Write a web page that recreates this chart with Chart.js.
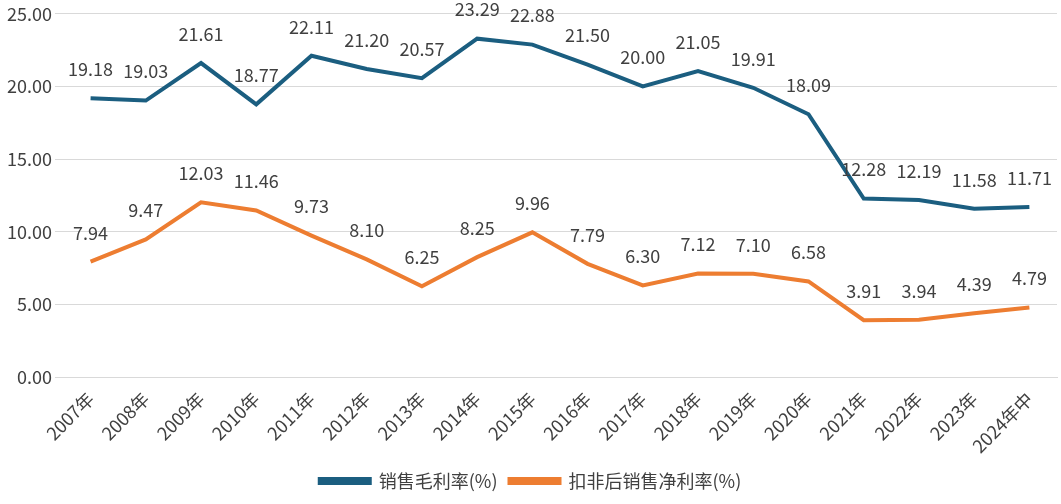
<!DOCTYPE html>
<html><head><meta charset="utf-8">
<script src="https://cdn.jsdelivr.net/npm/chart.js@4"></script>
<style>html,body{margin:0;background:#fff}#w{width:1061px;height:504px}</style>
</head><body><div id="w"><canvas id="c"></canvas></div>
<script>
const categories=["2007年","2008年","2009年","2010年","2011年","2012年","2013年","2014年","2015年","2016年","2017年","2018年","2019年","2020年","2021年","2022年","2023年","2024年中"];
const grossMargin=[19.18,19.03,21.61,18.77,22.11,21.20,20.57,23.29,22.88,21.50,20.00,21.05,19.91,18.09,12.28,12.19,11.58,11.71];
const netMargin=[7.94,9.47,12.03,11.46,9.73,8.10,6.25,8.25,9.96,7.79,6.30,7.12,7.10,6.58,3.91,3.94,4.39,4.79];
const FONT='"Noto Sans CJK SC","Noto Sans",sans-serif';
const labelPlugin={id:'lbl',afterDatasetsDraw(chart){
  const ctx=chart.ctx;ctx.save();ctx.font='18px '+FONT;ctx.fillStyle='#404040';ctx.textAlign='center';ctx.textBaseline='bottom';
  chart.data.datasets.forEach((ds,i)=>{
    chart.getDatasetMeta(i).data.forEach((p,j)=>{ctx.fillText(ds.data[j].toFixed(2),p.x,p.y-20);});
  });
  ctx.restore();
}};
const config={
  type:'line',
  data:{labels:categories,datasets:[
    {label:'销售毛利率(%)',data:grossMargin,borderColor:'#1b5e80',backgroundColor:'#1b5e80',borderWidth:4,pointRadius:0,tension:0},
    {label:'扣非后销售净利率(%)',data:netMargin,borderColor:'#ed7d31',backgroundColor:'#ed7d31',borderWidth:4,pointRadius:0,tension:0}
  ]},
  options:{
    responsive:true,maintainAspectRatio:false,animation:false,
    layout:{padding:{top:12,right:4,left:4,bottom:4}},
    plugins:{
      legend:{position:'bottom',labels:{font:{size:18,family:FONT},color:'#404040',boxWidth:50,boxHeight:4,padding:12}},
      tooltip:{enabled:false}
    },
    scales:{
      x:{offset:true,grid:{display:false},border:{color:'#d9d9d9'},ticks:{font:{size:18,family:FONT},color:'#404040',maxRotation:45,minRotation:45}},
      y:{min:0,max:25,ticks:{stepSize:5,font:{size:18,family:FONT},color:'#404040',callback:v=>v.toFixed(2)},grid:{color:'#d9d9d9'},border:{display:false}}
    }
  },
  plugins:[labelPlugin]
};
new Chart(document.getElementById('c'),config);
</script></body></html>
